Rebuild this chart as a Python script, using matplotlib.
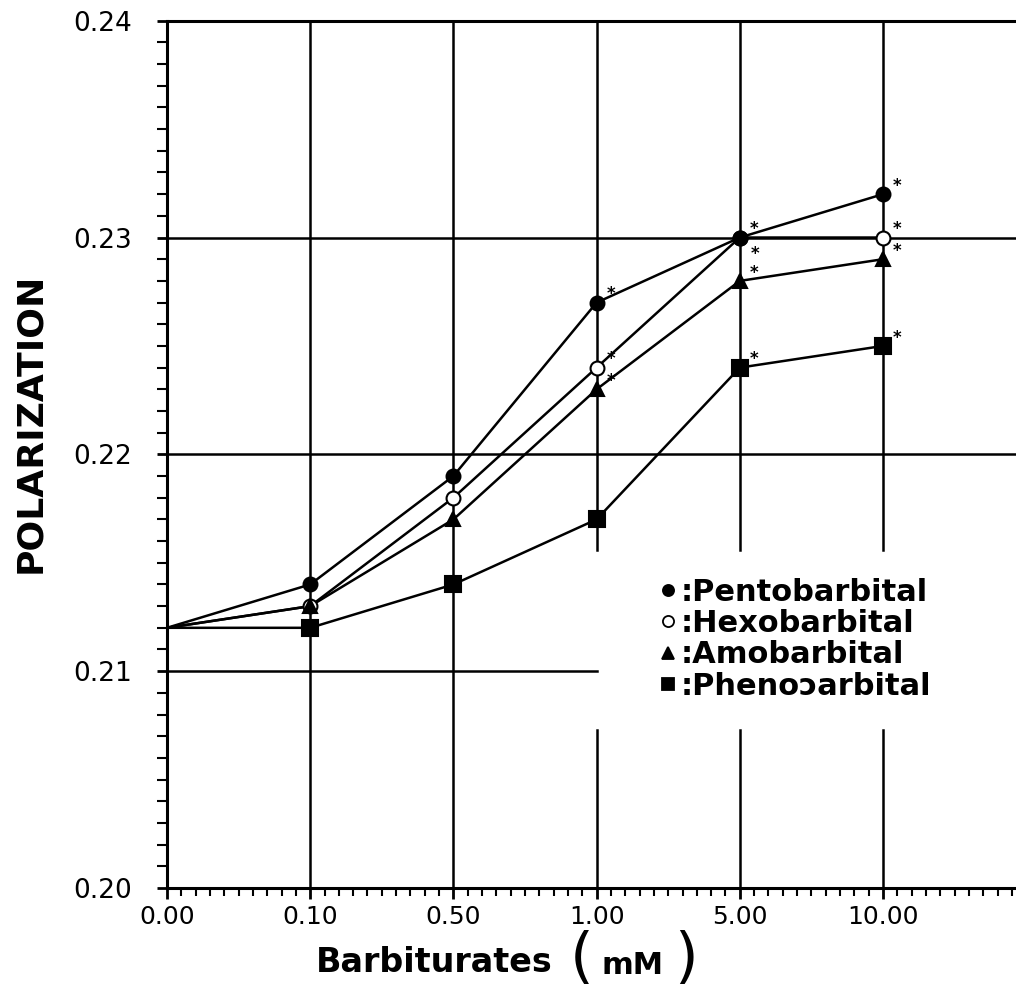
import numpy as np
import matplotlib
matplotlib.use("Agg")
import matplotlib.pyplot as plt
from matplotlib.lines import Line2D

plt.rcParams["font.family"] = ["DejaVu Sans"]

# barbiturate concentrations (mM), plotted at evenly spaced positions
doses = ["0.00", "0.10", "0.50", "1.00", "5.00", "10.00"]

pento = [0.212, 0.214, 0.219, 0.227, 0.230, 0.232]
hexo = [0.212, 0.213, 0.218, 0.224, 0.230, 0.230]
amo = [0.212, 0.213, 0.217, 0.223, 0.228, 0.229]
pheno = [0.212, 0.212, 0.214, 0.217, 0.224, 0.225]

# significance marks (*) per point
pento_sig = [False, False, False, True, True, True]
hexo_sig = [False, False, False, True, True, True]
amo_sig = [False, False, False, True, True, True]
pheno_sig = [False, False, False, False, True, True]

names = ["Pentobarbital", "Hexobarbital", "Amobarbital", "Phenoɔarbital"]

series = [
    (pento, pento_sig, "o", "black", 10, 6),
    (hexo, hexo_sig, "o", "white", 10, 3),
    (amo, amo_sig, "^", "black", 10, 5),
    (pheno, pheno_sig, "s", "black", 11, 4),
]

W, H = 1016, 998
fig = plt.figure(figsize=(W / 100, H / 100), dpi=100)
ax = fig.add_axes([167 / W, 1 - 888 / H, (W - 167) / W, (888 - 20.7) / H])

xpos = np.arange(len(doses))
ax.set_xlim(0, (W - 167) / 143.2)
ax.set_ylim(0.20, 0.24)

# grid lines drawn by hand, like the original plot
lw_grid = 1.8
for yv in [0.22, 0.23]:
    ax.axhline(yv, color="black", lw=lw_grid, zorder=1)
ax.plot([0, xpos[3]], [0.21, 0.21], color="black", lw=lw_grid, zorder=1)
for xv in xpos[1:3]:
    ax.axvline(xv, color="black", lw=lw_grid, zorder=1)
for xv in xpos[3:]:
    ax.plot([xv, xv], [0.20, 0.2073], color="black", lw=lw_grid, zorder=1)
    ax.plot([xv, xv], [0.2156, 0.24], color="black", lw=lw_grid, zorder=1)

for (vals, sig, mk, fc, ms, z), name in zip(series, names):
    ax.plot(xpos, vals, color="black", lw=1.8, zorder=2)
    ax.plot(xpos[1:], vals[1:], ls="none", marker=mk, markersize=ms,
            markerfacecolor=fc, markeredgecolor="black", markeredgewidth=1.5,
            zorder=z)
    for i, s in enumerate(sig):
        if not s:
            continue
        off = (7, 6)
        if name == "Hexobarbital" and i == 4:
            off = (8, -12)
        ax.annotate("*", (xpos[i], vals[i]), xytext=off, textcoords="offset points",
                    fontsize=12, fontweight="bold", ha="left", va="center")

# axes styling
for sp in ["left", "bottom", "top"]:
    ax.spines[sp].set_linewidth(2.2)
ax.spines["right"].set_visible(False)

ax.set_xticks(xpos)
ax.set_xticklabels(doses)
ax.set_xticks(np.arange(0, 5.95, 0.1), minor=True)
ax.set_yticks([0.20, 0.21, 0.22, 0.23, 0.24])
ax.set_yticklabels(["0.20", "0.21", "0.22", "0.23", "0.24"])
ax.set_yticks(np.arange(0.20, 0.2401, 0.001), minor=True)

ax.tick_params(axis="x", which="major", direction="out", length=8, width=2,
               labelsize=18, pad=4)
ax.tick_params(axis="x", which="minor", direction="out", length=6, width=1.5)
ax.tick_params(axis="y", which="major", direction="out", length=7, width=2,
               labelsize=19, pad=18)
ax.tick_params(axis="y", which="minor", direction="out", length=7, width=1.5)

# axis titles
fig.text(30 / W, 1 - 423 / H, "POLARIZATION", rotation=90, ha="center",
         va="center", fontsize=26, fontweight="bold")
fig.text(434 / W, 1 - 962 / H, "Barbiturates", ha="center", va="center",
         fontsize=24, fontweight="bold")
fig.text(582 / W, 1 - 960 / H, "(", ha="center", va="center", fontsize=44)
fig.text(633 / W, 1 - 966 / H, "mM", ha="center", va="center",
         fontsize=22, fontweight="bold")
fig.text(686 / W, 1 - 960 / H, ")", ha="center", va="center", fontsize=44)

# legend
handles = [Line2D([], [], ls="none", marker=mk, markersize=8, markerfacecolor=fc,
                  markeredgecolor="black", markeredgewidth=1.3)
           for (_, _, mk, fc, _, _) in series]
leg = ax.legend(handles, [":" + n for n in names], loc="upper left",
                bbox_to_anchor=(0.565, 0.372), frameon=False, handlelength=0.6,
                handletextpad=0.1, labelspacing=0.08, borderaxespad=0,
                prop={"size": 22, "weight": "bold"})

fig.savefig("out.png", dpi=100)
